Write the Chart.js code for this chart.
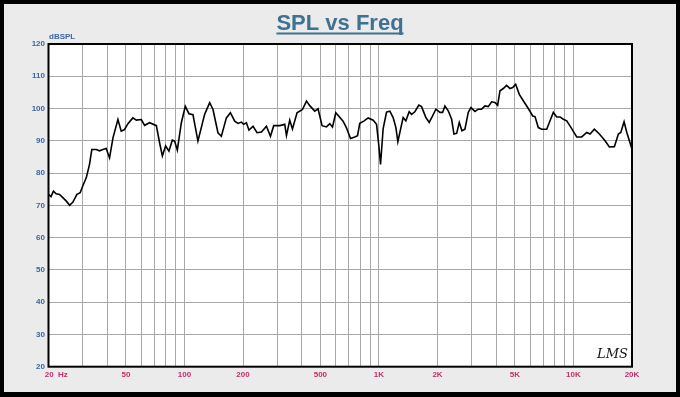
<!DOCTYPE html>
<html>
<head>
<meta charset="utf-8">
<script src="https://cdn.jsdelivr.net/npm/chart.js@4.4.1/dist/chart.umd.min.js"></script>
<style>
  html, body { margin: 0; padding: 0; background: #ebebeb; }
  #wrap { width: 680px; height: 397px; }
</style>
</head>
<body>
<div id="wrap"><canvas id="c" width="680" height="397"></canvas></div>
<script>
const chartTitle = 'SPL vs Freq';
const yUnitLabel = 'dBSPL';
const logoText = 'LMS';

const freqHz = [20, 20.6, 21.2, 21.9, 22.8, 23.7, 24.7, 25.7, 26.7, 28.0,
  29.1, 30.0, 31.3, 32.5, 33.4, 35.2, 36.6, 38.1, 39.6, 41.2,
  42.9, 45.5, 47.3, 49.2, 51.2, 54.3, 56.6, 60.0, 62.4, 66.2,
  71.7, 74.5, 77.0, 80.0, 83.2, 86.6, 89.0, 91.9, 96.4, 101,
  105.5, 110.6, 117.3, 127, 134.8, 140.2, 148.7, 154.8, 164.3, 172.3,
  181.3, 188.5, 196.3, 201.7, 208.2, 214.7, 225.2, 236.2, 248.8, 264,
  276.8, 287.8, 309, 327.8, 334.6, 347.8, 359.2, 379.2, 404.4, 424,
  440.8, 467.8, 486.4, 510, 537.2, 558.8, 577, 600, 654, 681,
  714, 751.6, 776, 797, 836, 880, 934, 972, 999, 1019,
  1051, 1094, 1138, 1183, 1222, 1251, 1292, 1332, 1375, 1430,
  1471, 1530, 1604, 1656, 1743, 1813, 1887, 1963, 2058, 2125,
  2184, 2271, 2364, 2430, 2509, 2588, 2672, 2768, 2878, 2972,
  3116, 3240, 3373, 3508, 3648, 3796, 3948, 4076, 4190, 4356,
  4536, 4718, 4870, 5046, 5266, 5522, 5860, 6174, 6344, 6596,
  6868, 7288, 7578, 7882, 8206, 8532, 8872, 9238, 9720, 10396,
  11030, 11704, 12172, 12808, 13590, 14540, 15300, 16234, 17022, 17512,
  18212, 18806, 20000];

const splDb = [73.4, 72.7, 74.4, 73.6, 73.4, 72.4, 71.3, 70.0, 71.0, 73.4,
  73.9, 76.0, 78.6, 82.7, 87.3, 87.3, 86.9, 87.3, 87.6, 84.7,
  90.9, 96.6, 93.0, 93.5, 95.3, 97.1, 96.4, 96.6, 94.8, 95.6,
  94.7, 89.4, 85.3, 88.4, 86.8, 90.2, 89.9, 87.1, 95.6, 100.7,
  98.4, 98.1, 89.9, 98.2, 101.8, 99.7, 92.5, 91.4, 97.1, 98.7,
  96.1, 95.4, 95.8, 95.1, 95.6, 93.3, 94.5, 92.5, 92.7, 94.5,
  91.4, 94.7, 94.7, 95.1, 91.6, 96.4, 93.7, 98.7, 99.7, 102.3,
  100.9, 99.2, 99.9, 94.7, 94.3, 95.3, 94.3, 98.7, 96.1, 94.0,
  90.7, 91.2, 91.6, 95.4, 96.1, 97.1, 96.4, 95.1, 88.4, 82.7,
  93.8, 98.9, 99.2, 97.2, 94.1, 89.7, 93.6, 97.2, 96.2, 99.0,
  98.2, 99.0, 101.1, 100.6, 97.2, 95.7, 97.7, 99.8, 98.8, 98.8,
  100.8, 99.3, 96.7, 92.1, 92.3, 95.7, 93.1, 93.6, 98.8, 100.3,
  99.1, 99.8, 99.8, 100.8, 100.6, 102.1, 101.9, 101.0, 105.5, 106.2,
  107.2, 106.2, 106.5, 107.5, 104.4, 102.4, 100.0, 97.7, 97.5, 94.1,
  93.6, 93.6, 96.2, 98.8, 97.4, 97.4, 96.7, 96.2, 94.1, 91.2,
  91.2, 92.6, 92.1, 93.6, 92.1, 90.0, 88.1, 88.2, 92.1, 92.6,
  95.9, 92.6, 87.4];

const xGridTicks = [20, 30, 40, 50, 60, 70, 80, 90, 100, 200, 300, 400, 500, 600, 700, 800, 900,
  1000, 2000, 3000, 4000, 5000, 6000, 7000, 8000, 9000, 10000, 20000];
const xTickLabels = {20: '       20  Hz', 50: '50', 100: '100', 200: '200', 500: '500',
  1000: '1K', 2000: '2K', 5000: '5K', 10000: '10K', 20000: '20K'};
const yMin = 20, yMax = 120, yStep = 10;

const framePlugin = {
  id: 'frame',
  beforeDraw(chart) {
    const ctx = chart.ctx, a = chart.chartArea;
    ctx.save();
    ctx.fillStyle = '#ebebeb';
    ctx.fillRect(0, 0, chart.width, chart.height);
    ctx.fillStyle = '#ffffff';
    ctx.fillRect(a.left, a.top, a.right - a.left, a.bottom - a.top);
    ctx.restore();
  },
  afterDraw(chart) {
    const ctx = chart.ctx, a = chart.chartArea;
    ctx.save();
    // plot border
    ctx.strokeStyle = '#000';
    ctx.lineWidth = 2;
    ctx.strokeRect(a.left, a.top, a.right - a.left, a.bottom - a.top);
    // outer frame
    ctx.lineWidth = 4;
    ctx.strokeRect(2, 2, chart.width - 4, chart.height - 4);
    ctx.fillStyle = '#000';
    ctx.fillRect(0, chart.height - 5, chart.width, 5);
    // title with underline
    ctx.font = 'bold 22px "Liberation Sans", Arial, sans-serif';
    ctx.fillStyle = '#3f7290';
    ctx.textAlign = 'center';
    ctx.textBaseline = 'alphabetic';
    const tx = 340, ty = 30;
    ctx.fillText(chartTitle, tx, ty);
    const w = ctx.measureText(chartTitle).width;
    ctx.fillRect(tx - w / 2, ty + 2.5, w, 2);
    // y unit label
    ctx.font = 'bold 8px "Liberation Sans", Arial, sans-serif';
    ctx.fillStyle = '#3a66a0';
    ctx.textAlign = 'left';
    ctx.textBaseline = 'middle';
    ctx.fillText(yUnitLabel, a.left + 0.5, a.top - 7);
    // logo
    ctx.font = 'italic 13px "DejaVu Serif", serif';
    ctx.fillStyle = '#111';
    ctx.textAlign = 'left';
    ctx.textBaseline = 'alphabetic';
    ctx.fillText(logoText, 597, 358);
    ctx.restore();
  }
};

new Chart(document.getElementById('c'), {
  type: 'line',
  data: {
    datasets: [{
      data: freqHz.map((f, i) => ({ x: f, y: splDb[i] })),
      borderColor: '#000000',
      borderWidth: 1.6,
      pointRadius: 0,
      tension: 0,
      fill: false
    }]
  },
  options: {
    responsive: false,
    animation: false,
    devicePixelRatio: 1,
    layout: { padding: { left: 4, top: 44, right: 48, bottom: 0 } },
    plugins: { legend: { display: false }, title: { display: false }, tooltip: { enabled: false } },
    scales: {
      x: {
        type: 'logarithmic',
        min: 20, max: 20000,
        afterBuildTicks(scale) { scale.ticks = xGridTicks.map(v => ({ value: v })); },
        afterFit(scale) { scale.height = 30.3; },
        grid: { color: '#a8a8a8', lineWidth: 1, drawTicks: false },
        border: { display: false },
        ticks: {
          autoSkip: false, maxRotation: 0, minRotation: 0, padding: 3.5,
          color: '#c0306a',
          font: { family: '"Liberation Sans", Arial, sans-serif', size: 8, weight: 'bold' },
          callback(v) { return xTickLabels[v] !== undefined ? xTickLabels[v] : ''; }
        }
      },
      y: {
        type: 'linear',
        min: yMin, max: yMax,
        afterFit(scale) { scale.width = 44.5; },
        grid: { color: '#a8a8a8', lineWidth: 1, drawTicks: false },
        border: { display: false },
        ticks: {
          stepSize: yStep, padding: 3.5,
          color: '#3a66a0',
          font: { family: '"Liberation Sans", Arial, sans-serif', size: 8, weight: 'bold' }
        }
      }
    }
  },
  plugins: [framePlugin]
});
</script>
</body>
</html>
